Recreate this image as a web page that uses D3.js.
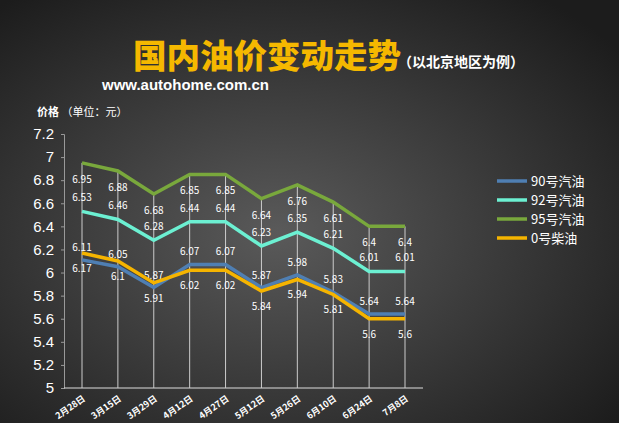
<!DOCTYPE html><html><head><meta charset="utf-8"><script src="https://cdn.jsdelivr.net/npm/d3@7"></script>
<style>body{margin:0;}svg{display:block;font-family:"Noto Sans CJK SC","Noto Sans",sans-serif}</style></head><body><svg id="c" width="619" height="423"></svg><script>
const categories=["2月28日","3月15日","3月29日","4月12日","4月27日","5月12日","5月26日","6月10日","6月24日","7月8日"];
const s90=[6.11,6.05,5.87,6.07,6.07,5.87,5.98,5.83,5.64,5.64];
const s92=[6.53,6.46,6.28,6.44,6.44,6.23,6.35,6.21,6.01,6.01];
const s95=[6.95,6.88,6.68,6.85,6.85,6.64,6.76,6.61,6.4,6.4];
const s0=[6.17,6.1,5.91,6.02,6.02,5.84,5.94,5.81,5.6,5.6];
const yTicks=[5,5.2,5.4,5.6,5.8,6,6.2,6.4,6.6,6.8,7,7.2];
const series=[
 {name:"90号汽油",v:s90,c:"#4f7fb3",dy:-9},
 {name:"92号汽油",v:s92,c:"#6cf0d2",dy:-10},
 {name:"95号汽油",v:s95,c:"#79a83c",dy:20},
 {name:"0号柴油",v:s0,c:"#f5b400",dy:19}];
const svg=d3.select("#c");
const defs=svg.append("defs");
const g=defs.append("radialGradient").attr("id","bg").attr("cx","45%").attr("cy","55%").attr("r","70%");
g.append("stop").attr("offset","0").attr("stop-color","#5a5a5a");
g.append("stop").attr("offset","1").attr("stop-color","#1c1c1c");
svg.append("rect").attr("width",619).attr("height",423).attr("fill","url(#bg)");
svg.append("text").attr("x",133).attr("y",68).attr("fill","#f5b800").attr("font-size",33).attr("font-weight","900").attr("textLength",268).attr("lengthAdjust","spacingAndGlyphs").text("国内油价变动走势");
svg.append("text").attr("x",398).attr("y",67).attr("fill","#fff").attr("font-size",14).attr("font-weight","bold").text("（以北京地区为例）");
svg.append("text").attr("x",102).attr("y",90).attr("fill","#fff").attr("font-size",15).attr("font-weight","bold").attr("font-family","Liberation Sans,Arial").text("www.autohome.com.cn");
svg.append("text").attr("x",37).attr("y",116).attr("fill","#fff").attr("font-size",11).html('<tspan font-weight="bold">价格</tspan> （单位：元）');
const x=d3.scalePoint().domain(categories).range([82,405]);
const y=d3.scaleLinear().domain([5,7.2]).range([388,134]);
const ya=svg.append("g").attr("transform","translate(64,0)").call(d3.axisLeft(y).tickValues(yTicks).tickFormat(d3.format("~g")).tickSize(3));
ya.select(".domain").attr("stroke","#999");
ya.selectAll("line").attr("stroke","#999");
ya.selectAll("text").attr("fill","#fff").attr("font-size",15).attr("x",-10);
svg.append("line").attr("x1",64).attr("x2",423).attr("y1",388).attr("y2",388).attr("stroke","#ddd");
categories.forEach((c,i)=>{
 svg.append("line").attr("x1",x(c)).attr("x2",x(c)).attr("y1",388).attr("y2",y(s95[i])).attr("stroke","#ccc").attr("stroke-width",1);
 svg.append("text").attr("transform",`translate(${x(c)+4},${400}) rotate(-35)`).attr("text-anchor","end").attr("fill","#fff").attr("font-size",9).attr("font-weight","bold").text(c);
});
const line=d3.line().x((d,i)=>x(categories[i])).y(d=>y(d));
series.forEach(s=>{
 svg.append("path").datum(s.v).attr("d",line).attr("fill","none").attr("stroke",s.c).attr("stroke-width",3.5);
 s.v.forEach((d,i)=>svg.append("text").attr("x",x(categories[i])).attr("y",y(d)+s.dy).attr("text-anchor","middle").attr("fill","#fff").attr("font-size",10).text(d));
});
series.forEach((s,i)=>{
 const ly=181+i*19;
 svg.append("line").attr("x1",497).attr("x2",527).attr("y1",ly).attr("y2",ly).attr("stroke",s.c).attr("stroke-width",3.5);
 svg.append("text").attr("x",531).attr("y",ly+5).attr("fill","#fff").attr("font-size",13).text(s.name);
});
</script></body></html>
